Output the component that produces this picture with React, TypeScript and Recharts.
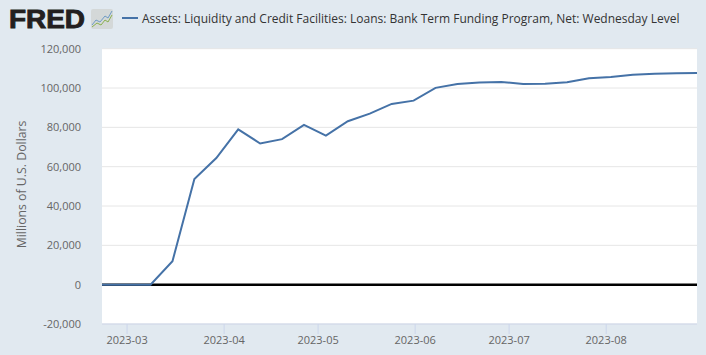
import React from "react";
import { LineChart, Line, XAxis, YAxis, CartesianGrid, ReferenceLine } from "recharts";

const dates = ["2023-02-15","2023-02-22","2023-03-01","2023-03-08","2023-03-15","2023-03-22","2023-03-29","2023-04-05","2023-04-12","2023-04-19","2023-04-26","2023-05-03","2023-05-10","2023-05-17","2023-05-24","2023-05-31","2023-06-07","2023-06-14","2023-06-21","2023-06-28","2023-07-05","2023-07-12","2023-07-19","2023-07-26","2023-08-02","2023-08-09","2023-08-16","2023-08-23","2023-08-30"];
const values = [0,0,0,0,11900,53700,64400,79000,71800,74000,81300,75800,83100,87000,91900,93600,100100,102000,102800,103100,102000,102200,102900,105000,105600,106800,107200,107500,107600];
const monthTicks = ["2023-03-01","2023-04-01","2023-05-01","2023-06-01","2023-07-01","2023-08-01"];
const yTicks = [-20000,0,20000,40000,60000,80000,100000,120000];
const domainStart = "2023-02-21";
const domainEnd = "2023-08-30";
const seriesTitle = "Assets: Liquidity and Credit Facilities: Loans: Bank Term Funding Program, Net: Wednesday Level";
const yLabel = "Millions of U.S. Dollars";

const FONT = "'Open Sans', sans-serif";
const toMs = (d: string) => Date.parse(d + "T00:00:00Z");
const pointMs = (d: string) => Date.parse(d + "T12:00:00Z");
const table = dates.map((d, i) => ({ t: pointMs(d), v: values[i] }));
const fmtX = (t: number) => new Date(t).toISOString().slice(0, 7);
const fmtY = (v: number) => v.toLocaleString("en-US");

function Logo() {
  return (
    <svg width={120} height={44} style={{ position: "absolute", left: 0, top: 0 }}>
      <text x={9} y={28} fontFamily="'Liberation Sans', Arial, sans-serif" fontWeight={700} fontSize={26} fill="#231f20" stroke="#231f20" strokeWidth={0.9} textLength={76} lengthAdjust="spacingAndGlyphs">FRED</text>
      <rect x={91} y={9} width={22} height={20} rx={2} fill="#d4d8d8" />
      <polyline points="92,25 96,20 100,22 105,16 108,18 112,11" fill="none" stroke="#6e9bc5" strokeWidth={1} />
      <polyline points="92,27 97,23 101,25 105,20 108,22 112,15" fill="none" stroke="#8ab04f" strokeWidth={1} />
    </svg>
  );
}

export default function App() {
  return (
    <div style={{ position: "absolute", left: 0, top: 0, width: 706, height: 355, background: "#e1e9f0", overflow: "hidden", fontFamily: FONT }}>
      <Logo />
      <svg width={706} height={40} style={{ position: "absolute", left: 0, top: 0 }}>
        <line x1={122} x2={138} y1={18} y2={18} stroke="#4572a7" strokeWidth={2} />
        <text x={142} y={22.5} fontFamily={FONT} fontSize={12} fill="#333">{seriesTitle}</text>
      </svg>
      <LineChart width={706} height={355} data={table} margin={{ top: 48.7, right: 9, bottom: 0, left: 0 }} style={{ position: "absolute", left: 0, top: 0 }}>
        <CartesianGrid horizontal vertical={false} stroke="#e6e6e6" fill="#ffffff" />
        <XAxis
          dataKey="t"
          type="number"
          scale="time"
          domain={[toMs(domainStart), toMs(domainEnd)]}
          allowDataOverflow
          ticks={monthTicks.map(toMs)}
          tickFormatter={fmtX}
          stroke="#ccd6eb"
          tickSize={10}
          tickMargin={2}
          tick={{ fill: "#666666", fontSize: 11, fontFamily: FONT }}
          height={31}
          interval={0}
        />
        <YAxis
          domain={[-20000, 120000]}
          ticks={yTicks}
          tickFormatter={fmtY}
          axisLine={false}
          tickLine={false}
          width={102}
          tickMargin={15}
          tick={{ fill: "#666666", fontSize: 11, fontFamily: FONT }}
          label={{ value: yLabel, angle: -90, position: "insideLeft", offset: 22, dy: 62, fill: "#666666", fontSize: 12.3, fontFamily: FONT }}
        />
        <ReferenceLine y={0} stroke="#000000" strokeWidth={2.5} />
        <Line dataKey="v" stroke="#4572a7" strokeWidth={2} dot={false} isAnimationActive={false} />
      </LineChart>
    </div>
  );
}
